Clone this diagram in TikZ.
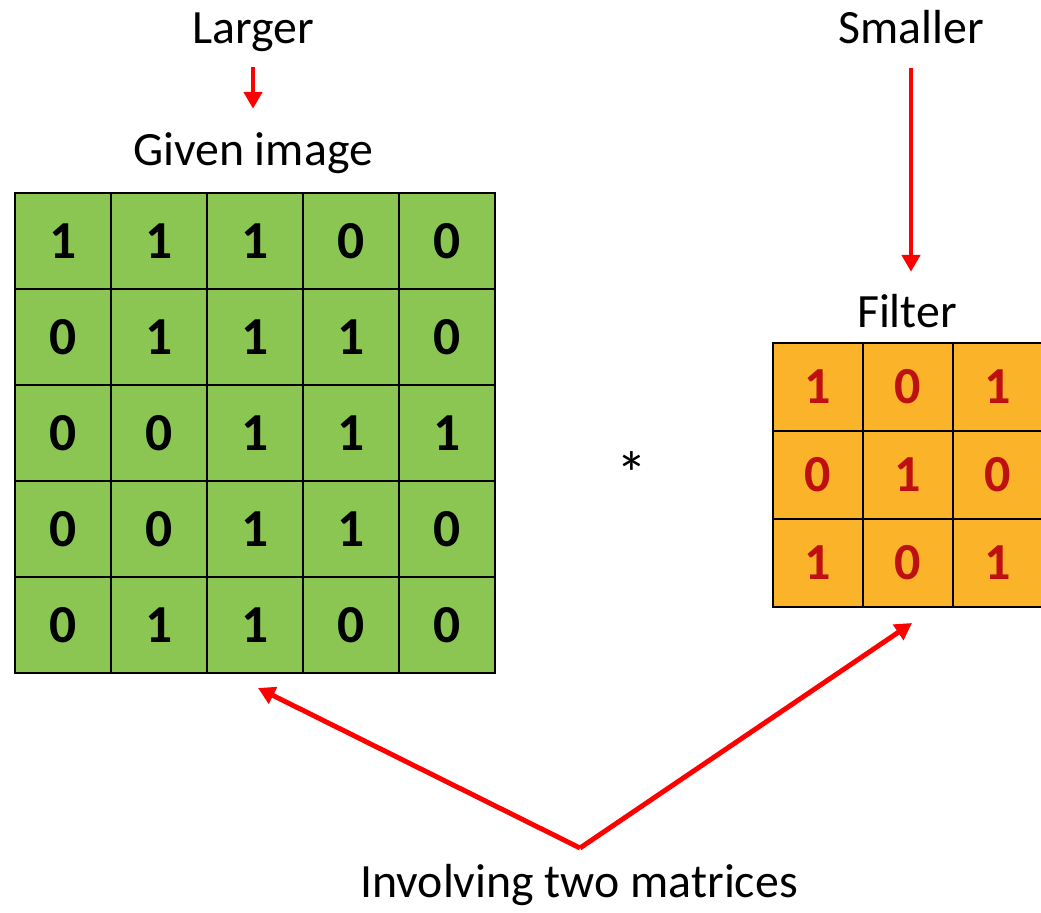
\documentclass[tikz,border=0pt]{standalone}
\usepackage{fontspec}
\setmainfont{Carlito}
\usepackage{xcolor}
\usetikzlibrary{arrows.meta}
\definecolor{cellgreen}{HTML}{8BC652}
\definecolor{cellorange}{HTML}{FBB329}
\definecolor{digitred}{HTML}{BE1010}
\tikzset{txt/.style={font=\fontsize{34}{40}\selectfont,inner sep=0,text height=24pt,text depth=8pt,anchor=base},
  gcell/.style={draw,line width=1.2pt,fill=cellgreen,minimum width=2.4cm,minimum height=2.4cm,inner sep=0,font=\fontsize{38}{44}\selectfont\bfseries},
  ocell/.style={draw,line width=1.2pt,fill=cellorange,text=digitred,minimum width=2.25cm,minimum height=2.2cm,inner sep=0,font=\fontsize{37}{44}\selectfont\bfseries},
  redarrow/.style={draw=red,line width=3.5pt,-{Triangle[length=0.42cm,width=0.45cm]}}}

\begin{document}
\begin{tikzpicture}[x=0.025cm,y=-0.025cm]
    \useasboundingbox (0,0) rectangle (1041,913);

    \node[txt] (larger) at (253,44) {Larger};
    \node[txt] (given) at (253,166) {Given image};
    \node[txt] (smaller) at (911,44) {Smaller};
    \node[txt] (filter) at (907,327) {Filter};
    \node[txt] (involving) at (579,897) {Involving two matrices};
    \node[font=\fontsize{44}{50}\selectfont,inner sep=0] (star) at (632,474) {*};

    % given image
    \node[gcell] (g11) at (63,241) {1};
    \node[gcell] (g12) at (159,241) {1};
    \node[gcell] (g13) at (255,241) {1};
    \node[gcell] (g14) at (351,241) {0};
    \node[gcell] (g15) at (447,241) {0};
    \node[gcell] (g21) at (63,337) {0};
    \node[gcell] (g22) at (159,337) {1};
    \node[gcell] (g23) at (255,337) {1};
    \node[gcell] (g24) at (351,337) {1};
    \node[gcell] (g25) at (447,337) {0};
    \node[gcell] (g31) at (63,433) {0};
    \node[gcell] (g32) at (159,433) {0};
    \node[gcell] (g33) at (255,433) {1};
    \node[gcell] (g34) at (351,433) {1};
    \node[gcell] (g35) at (447,433) {1};
    \node[gcell] (g41) at (63,529) {0};
    \node[gcell] (g42) at (159,529) {0};
    \node[gcell] (g43) at (255,529) {1};
    \node[gcell] (g44) at (351,529) {1};
    \node[gcell] (g45) at (447,529) {0};
    \node[gcell] (g51) at (63,625) {0};
    \node[gcell] (g52) at (159,625) {1};
    \node[gcell] (g53) at (255,625) {1};
    \node[gcell] (g54) at (351,625) {0};
    \node[gcell] (g55) at (447,625) {0};

    % filter
    \node[ocell] (f11) at (818,387) {1};
    \node[ocell] (f12) at (908,387) {0};
    \node[ocell] (f13) at (998,387) {1};
    \node[ocell] (f21) at (818,475) {0};
    \node[ocell] (f22) at (908,475) {1};
    \node[ocell] (f23) at (998,475) {0};
    \node[ocell] (f31) at (818,563) {1};
    \node[ocell] (f32) at (908,563) {0};
    \node[ocell] (f33) at (998,563) {1};

    \coordinate (v) at (580,848);
    \coordinate (gtip) at (258,688);
    \coordinate (ftip) at (912,623);

    \draw [redarrow,shorten <=0.28cm,shorten >=0.58cm] (larger) -- (given);
    \draw [redarrow,shorten <=0.3cm,shorten >=0.53cm] (smaller.south) -- (filter.north -| smaller.south);
    \draw [redarrow] (v) -- (gtip);
    \draw [redarrow] (v) -- (ftip);
\end{tikzpicture}
\end{document}
